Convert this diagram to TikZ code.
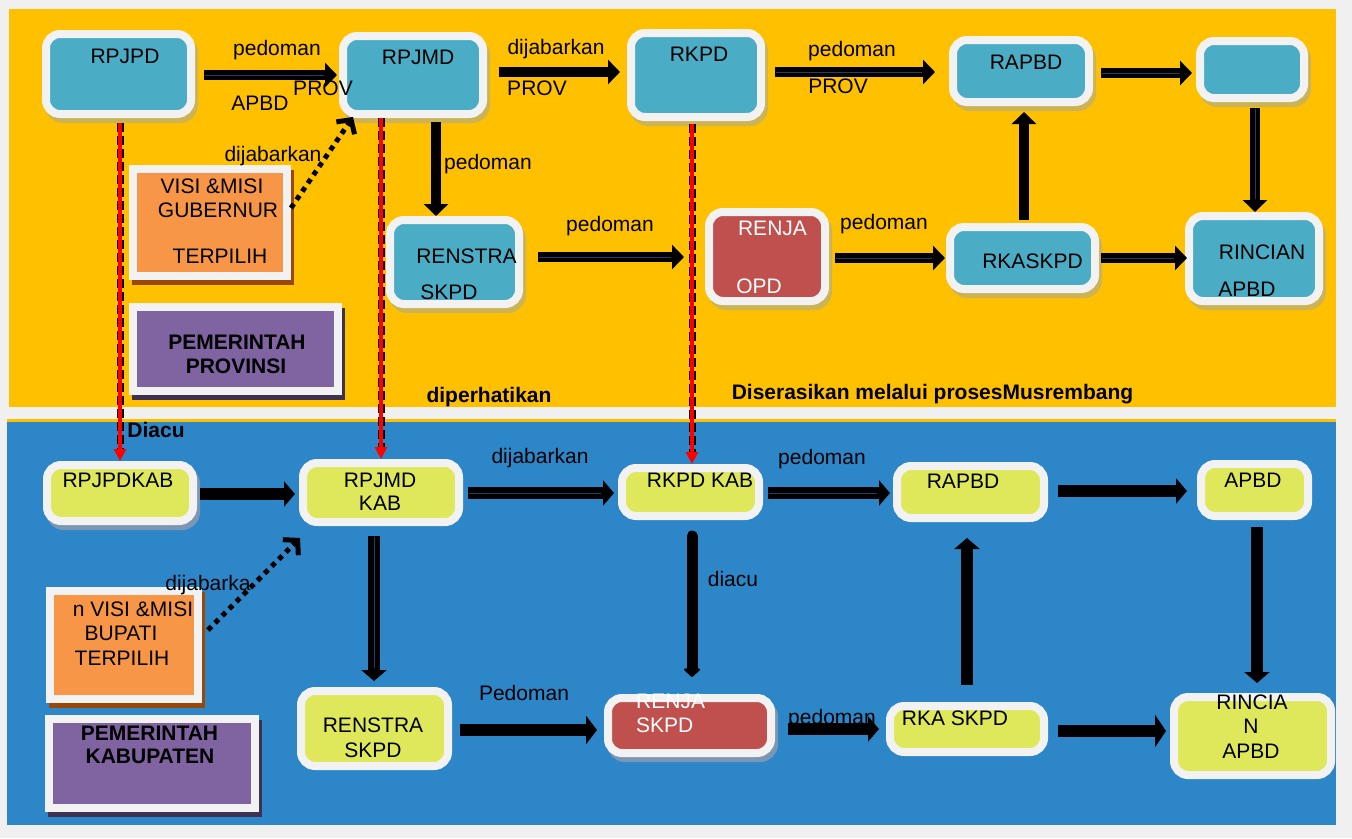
\documentclass[tikz,border=0pt]{standalone}
\usepackage{fontspec}
\setmainfont{Liberation Sans}
\usetikzlibrary{arrows.meta,calc,shadows}
\definecolor{cBg}{HTML}{F0F0F0}
\definecolor{cPanelY}{HTML}{FFC000}
\definecolor{cPanelB}{HTML}{2D86C8}
\definecolor{cTeal}{HTML}{4BACC6}
\definecolor{cLime}{HTML}{DFE85A}
\definecolor{cRedBox}{HTML}{C0504D}
\definecolor{cOrange}{HTML}{F79646}
\definecolor{cPurple}{HTML}{8064A2}
\definecolor{cBorder}{HTML}{F2F2F2}
\definecolor{shTop}{HTML}{CBB356}
\definecolor{shBot}{HTML}{7C97B3}
\definecolor{shBrown}{HTML}{984807}
\definecolor{shPurple}{HTML}{3F3151}
\definecolor{cInner}{HTML}{243F66}
\newcommand\myfs{\fontsize{21pt}{24pt}\selectfont}
\tikzset{
  rbox/.style={draw=cBorder, line width=8pt, rounded corners=14pt, inner sep=0pt},
  sbox/.style={draw=cBorder, line width=8pt, inner sep=0pt},
  tshadow/.style={drop shadow={shadow xshift=3pt, shadow yshift=-5pt, fill=#1, draw=#1, line width=8pt, opacity=1}},
  tbox/.style={rbox, fill=cTeal, tshadow=shTop},
  rtbox/.style={rbox, fill=cRedBox, tshadow=shTop},
  kbox/.style={rbox, fill=cLime},
  obox/.style={sbox, fill=cOrange, tshadow=shBrown},
  vbox/.style={sbox, fill=cPurple, tshadow=shPurple},
  lbl/.style={inner sep=0pt, text height=15pt, text depth=0pt, font=\myfs},
  blbl/.style={lbl, font=\myfs\bfseries},
  wlbl/.style={lbl, text=white},
  tarr/.style={line width=10pt, -{Triangle[length=12pt,width=24pt]}},
  tinner/.style={postaction={draw=cInner, line width=1pt, -, shorten >=13pt, shorten <=1pt}},
  barr/.style={line width=12pt, -{Triangle[length=11pt,width=25pt]}},
  dotarr/.style={line width=5pt, dash pattern=on 5pt off 5pt, -{Straight Barb[length=10pt,width=22pt]}},
  redl/.style={draw=red, line width=3.5pt, -{Triangle[length=12pt,width=12pt]},
    preaction={draw=black, line width=7pt, dash pattern=on 9pt off 4pt, -, shorten >=12pt}}
}
\begin{document}
\begin{tikzpicture}[x=1pt,y=-1pt]
\useasboundingbox (0,0) rectangle (1352,838);
\fill[cBg] (0,0) rectangle (1352,838);
\fill[cPanelY] (9,9) rectangle (1336,407);
\fill[cPanelY] (7,419) rectangle (1336,825);
\fill[cPanelB] (7,422) rectangle (1336,825);

% ---------- top (provinsi) boxes
\node[tbox, minimum width=145pt, minimum height=80pt] (pA) at (118.5,74) {};
\node[tbox, minimum width=140pt, minimum height=78pt] (pB) at (413,75) {};
\node[tbox, minimum width=130pt, minimum height=84pt] (pC) at (696,75) {};
\node[tbox, minimum width=136pt, minimum height=62pt] (pD) at (1021,71) {};
\node[tbox, minimum width=104pt, minimum height=57pt] (pE) at (1252,69.5) {};
\node[tbox, minimum width=129pt, minimum height=84pt] (pF) at (454.5,262) {};
\node[rtbox, minimum width=116pt, minimum height=89pt] (pG) at (767,256.5) {};
\node[tbox, minimum width=145pt, minimum height=62pt] (pH) at (1022.5,258) {};
\node[tbox, minimum width=130pt, minimum height=85pt] (pI) at (1254,258.5) {};
\node[obox, minimum width=154pt, minimum height=107pt] (pV) at (210,222.5) {};
\node[vbox, minimum width=205pt, minimum height=84pt] (pP) at (235.5,349) {};

% ---------- bottom (kabupaten) boxes
\node[kbox, tshadow=shBot, minimum width=146pt, minimum height=56pt] (kA) at (120,493) {};
\node[kbox, minimum width=156pt, minimum height=59pt] (kB) at (381,492.5) {};
\node[kbox, minimum width=137pt, minimum height=48pt] (kC) at (690.5,492) {};
\node[kbox, minimum width=147pt, minimum height=52pt] (kD) at (970.5,492) {};
\node[kbox, minimum width=107pt, minimum height=52pt] (kE) at (1254.5,490) {};
\node[obox, minimum width=148pt, minimum height=108pt] (kV) at (124,645) {};
\node[vbox, minimum width=206pt, minimum height=89pt] (kP) at (152,763.5) {};
\node[kbox, minimum width=147pt, minimum height=75pt] (kF) at (374.5,728.5) {};
\node[rbox, fill=cRedBox, tshadow=shBot, minimum width=163pt, minimum height=55pt] (kG) at (689.5,725.5) {};
\node[kbox, minimum width=154pt, minimum height=46pt] (kH) at (967,729) {};
\node[kbox, minimum width=157pt, minimum height=78pt] (kI) at (1252.5,736) {};

% ---------- texts in boxes (top)
\node[lbl] (tA) at (125,56) {RPJPD};
\node[lbl] (tB) at (418,57) {RPJMD};
\node[lbl] (tC) at (699,54) {RKPD};
\node[lbl] (tD) at (1026,62) {RAPBD};
\node[lbl] (tF1) at (466.5,256) {RENSTRA};
\node[lbl] (tF2) at (449,292) {SKPD};
\node[wlbl] (tG1) at (772.5,228) {RENJA};
\node[wlbl] (tG2) at (759,286) {OPD};
\node[lbl] (tH) at (1032.5,261) {RKASKPD};
\node[lbl] (tI1) at (1262,252) {RINCIAN};
\node[lbl] (tI2) at (1247,289) {APBD};
\node[lbl] (tV1) at (212,186) {VISI \&MISI};
\node[lbl] (tV2) at (218,210) {GUBERNUR};
\node[lbl] (tV3) at (220,256) {TERPILIH};
\node[blbl] (tP1) at (237,342) {PEMERINTAH};
\node[blbl] (tP2) at (236,366) {PROVINSI};

% ---------- texts in boxes (bottom)
\node[lbl] (uA) at (118,480) {RPJPDKAB};
\node[lbl] (uB1) at (380,480) {RPJMD};
\node[lbl] (uB2) at (380,503) {KAB};
\node[lbl] (uC) at (700,480) {RKPD KAB};
\node[lbl] (uD) at (963,481) {RAPBD};
\node[lbl] (uE) at (1253,480) {APBD};
\node[lbl] (uV1) at (133,609) {n VISI \&MISI};
\node[lbl] (uV2) at (121,633) {BUPATI};
\node[lbl] (uV3) at (122,658) {TERPILIH};
\node[blbl] (uP1) at (149.5,733) {PEMERINTAH};
\node[blbl] (uP2) at (150,756) {KABUPATEN};
\node[lbl] (uF1) at (373,725) {RENSTRA};
\node[lbl] (uF2) at (373,750) {SKPD};
\node[wlbl, anchor=west] (uG1) at (636,701) {RENJA};
\node[wlbl, anchor=west] (uG2) at (636,725) {SKPD};
\node[lbl] (uH) at (955,718) {RKA SKPD};
\node[lbl] (uI1) at (1252,702) {RINCIA};
\node[lbl] (uI2) at (1251,726) {N};
\node[lbl] (uI3) at (1251,751) {APBD};

% ---------- connector labels
\node[lbl] (l1) at (277,48) {pedoman};
\node[lbl] (l2) at (260,103) {APBD};
\node[lbl] (l3) at (323,88) {PROV};
\node[lbl] (l4) at (556,47) {dijabarkan};
\node[lbl] (l5) at (537,88) {PROV};
\node[lbl] (l6) at (852,49) {pedoman};
\node[lbl] (l7) at (838,86) {PROV};
\node[lbl] (l8) at (273,154) {dijabarkan};
\node[lbl] (l9) at (488,162) {pedoman};
\node[lbl] (l10) at (610,224) {pedoman};
\node[lbl] (l11) at (884,222) {pedoman};
\node[blbl] (l12) at (489,395) {diperhatikan};
\node[blbl] (l13) at (932.5,392) {Diserasikan melalui prosesMusrembang};
\node[blbl] (l14) at (156,430) {Diacu};
\node[lbl] (m1) at (540,456) {dijabarkan};
\node[lbl] (m2) at (822,457) {pedoman};
\node[lbl] (m3) at (733,579) {diacu};
\node[lbl] (m4) at (524,693) {Pedoman};
\node[lbl] (m5) at (832,717) {pedoman};
\node[lbl] (m6) at (208,583) {dijabarka};

% ---------- red dashed lines (Diacu)
\coordinate (r3m) at (684,257);
\draw[redl] ($(pA.south)+(1.5,5)$) -- (kA.north);
\draw[redl] (kB.north |- pB.south) -- (kB.north);
\draw[redl] ($(kC.north |- pC.south)+(1.5,3)$) -- ($(kC.north)+(1.5,0)$);

% ---------- top arrows
\draw[tarr, tinner] ($(pA.east)+(9,1)$) -- ($(pB.west)+(-2,0)$);
\draw[tarr] ($(pB.east)+(12,-3)$) -- ($(pC.west)+(-7,-3)$);
\draw[tarr, tinner] ($(pC.east)+(10,-3)$) -- ($(pD.west)+(-14,1)$);
\draw[tarr, tinner] ($(pD.east)+(8,2)$) -- ($(pE.west)+(-4,3.5)$);
\draw[tarr, tinner] ($(pE.south)+(3,6)$) -- ($(pI.north)+(1,0)$);
\draw[tarr] ($(pH.north)+(1.5,-3)$) -- ($(pD.south)+(3,6)$);
\draw[tarr] ($(pB.south)+(23,4)$) -- ($(pF.north)+(-18.5,0)$);
\draw[tarr, tinner] ($(pF.east)+(15,-5)$) -- (r3m);
\draw[tarr, tinner] ($(pG.east)+(6,1.5)$) -- ($(pH.west)+(-1,0)$);
\draw[tarr, tinner] ($(pH.east)+(2,0)$) -- ($(pI.west)+(2,-0.5)$);
\draw[dotarr] ($(pV.east)+(0,-14.5)$) -- ($(pB.south west)+(14,-1)$);

% ---------- bottom arrows
\draw[barr] ($(kA.east)+(3,1)$) -- ($(kB.west)+(-4,1.5)$);
\draw[barr, tinner] ($(kB.east)+(5,0.5)$) -- ($(kC.west)+(-4,1)$);
\draw[barr, tinner] ($(kC.east)+(5,1)$) -- ($(kD.west)+(-3,1)$);
\draw[barr] ($(kD.east)+(10,-1)$) -- ($(kE.west)+(-10,1)$);
\draw[barr] ($(kE.south)+(2.5,7)$) -- ($(kI.north)+(4.5,-10)$);
\draw[barr] ($(kH.north)+(0,-17)$) -- ($(kD.south)+(-3.5,16)$);
\draw[barr, tinner] ($(kB.south)+(-7,10)$) -- ($(kF.north)+(-0.5,-6)$);
\draw[line width=11pt, line cap=round, -{Triangle[length=9pt,width=19pt,round]}] ($(kC.south)+(1.5,16)$) -- ($(kG.north)+(2.5,-17)$);
\draw[barr, -{Triangle[length=11pt,width=28pt]}] ($(kF.east)+(8,1.5)$) -- ($(kG.west)+(-7,4.5)$);
\draw[barr] ($(kG.east)+(13,3.5)$) -- ($(kH.west)+(-7,0)$);
\draw[barr, -{Triangle[length=11pt,width=32pt]}] ($(kH.east)+(10,2)$) -- ($(kI.west)+(-4,-5)$);
\draw[dotarr] ($(kV.east)+(6,-15)$) -- ($(kB.south west)+(1,12)$);
\end{tikzpicture}
\end{document}
